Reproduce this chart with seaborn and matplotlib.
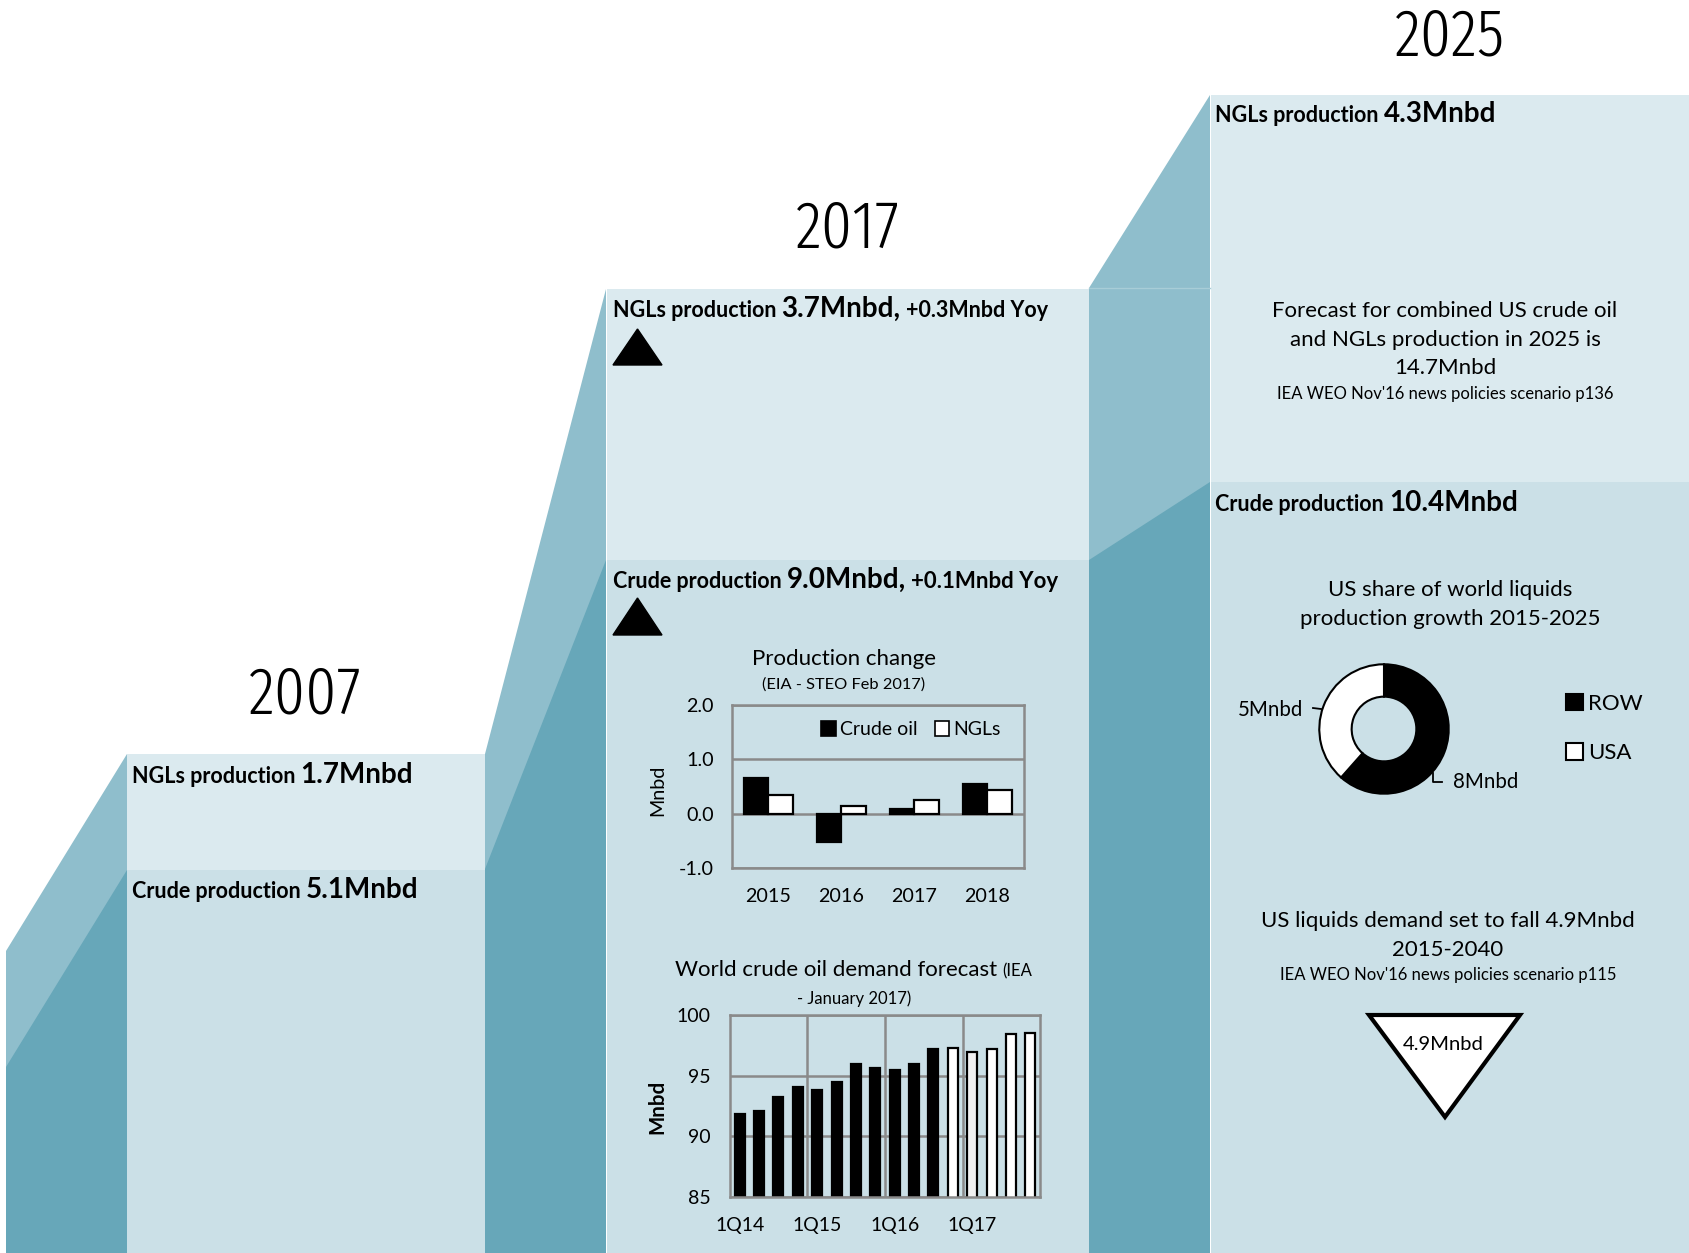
import matplotlib
matplotlib.use("Agg")
import matplotlib.pyplot as plt
from matplotlib.patches import Polygon, Rectangle, Patch
import pandas as pd
import seaborn as sns

# ---------------- data ----------------
snapshot_years = ["2007", "2017", "2025"]
ngl_production = [1.7, 3.7, 4.3]        # Mnbd
crude_production = [5.1, 9.0, 10.4]     # Mnbd
ngl_yoy = 0.3
crude_yoy = 0.1

change_years = ["2015", "2016", "2017", "2018"]
change_crude = [0.65, -0.52, 0.09, 0.54]
change_ngl = [0.34, 0.15, 0.26, 0.43]

demand_quarters = ["1Q14", "2Q14", "3Q14", "4Q14", "1Q15", "2Q15", "3Q15", "4Q15",
                   "1Q16", "2Q16", "3Q16", "4Q16", "1Q17", "2Q17", "3Q17", "4Q17"]
demand_values = [91.85, 92.05, 93.26, 94.06, 93.84, 94.44, 95.93, 95.65,
                 95.43, 95.96, 97.22, 97.30, 96.92, 97.22, 98.46, 98.51]
demand_colors = ["black"] * 11 + ["white", "#f0f0f0", "white", "white", "white"]
demand_tick_labels = ["1Q14", "1Q15", "1Q16", "1Q17"]

share_labels = ["ROW", "USA"]
share_values = [8, 5]

us_demand_fall = 4.9

# ---------------- style ----------------
W, H = 1690, 1253
NGL_BOX = "#dbeaef"
CRUDE_BOX = "#cbe0e7"
SLOPE_LIGHT = "#8fbecc"
SLOPE_DARK = "#67a7b9"
GRID = "#8a8a8a"
LABEL_FONT = ["Lato", "DejaVu Sans"]
YEAR_FONT = ["Fira Sans Extra Condensed", "Roboto Condensed", "DejaVu Sans"]

plt.rcParams["font.family"] = LABEL_FONT

fig = plt.figure(figsize=(W / 100, H / 100), dpi=100)
fig.patch.set_facecolor("white")
renderer = fig.canvas.get_renderer()


def rect(x0, y0, x1, y1):
    """Pixel box (top-left origin) -> figure fraction rectangle."""
    return [x0 / W, 1 - y1 / H, (x1 - x0) / W, (y1 - y0) / H]


bg = fig.add_axes([0, 0, 1, 1])
bg.set_xlim(0, W)
bg.set_ylim(H, 0)
bg.axis("off")

# staircase: ramps between the steps, then the step blocks
ramps = [
    (6, 127, 951, 754, 1067, 870),
    (485, 606, 754, 289, 869, 560),
    (1089, 1210, 288, 95, 560, 482),
]
for x0, x1, yl0, yl1, yd0, yd1 in ramps:
    bg.add_patch(Polygon([(x0, yl0), (x1, yl1), (x1, H), (x0, H)],
                         closed=True, fc=SLOPE_LIGHT, ec="none"))
    bg.add_patch(Polygon([(x0, yd0), (x1, yd1), (x1, H), (x0, H)],
                         closed=True, fc=SLOPE_DARK, ec="none"))
bg.plot([1089, 1210], [288, 288], color="#a8cdd7", lw=1)

blocks = [(127, 485, 754, 870), (607, 1089, 289, 560), (1211, 1690, 95, 482)]
for x0, x1, top_ngl, top_crude in blocks:
    bg.add_patch(Rectangle((x0, top_ngl), x1 - x0, top_crude - top_ngl,
                           fc=NGL_BOX, ec="none"))
    bg.add_patch(Rectangle((x0, top_crude), x1 - x0, H - top_crude,
                           fc=CRUDE_BOX, ec="none"))

# year headings
year_pos = [(305, 714), (848, 248), (1450, 56)]
for yr, (x, y) in zip(snapshot_years, year_pos):
    bg.text(x, y, yr, ha="center", va="baseline", fontsize=48, fontweight=300,
            family=YEAR_FONT, color="black")


def rich(ax, x, y, parts, gap=5):
    """Draw consecutive text runs of different sizes on one baseline."""
    cx = x
    for s, size, weight in parts:
        t = ax.text(cx, y, s, fontsize=size, fontweight=weight,
                    va="baseline", ha="left", color="black")
        bb = t.get_window_extent(renderer=renderer)
        cx = ax.transData.inverted().transform((bb.x1 + gap, bb.y0))[0]


def mn(v):
    return f"{v:.1f}Mnbd"


LBL, VAL, YOY = 15.5, 20, 15.5

# step labels
rich(bg, 132, 783, [("NGLs production", LBL, "bold"), (mn(ngl_production[0]), VAL, "bold")])
rich(bg, 132, 898, [("Crude production", LBL, "bold"), (mn(crude_production[0]), VAL, "bold")])
rich(bg, 613, 317, [("NGLs production", LBL, "bold"), (mn(ngl_production[1]) + ",", VAL, "bold"),
                    (f"+{ngl_yoy:.1f}Mnbd Yoy", YOY, "bold")])
rich(bg, 613, 588, [("Crude production", LBL, "bold"), (mn(crude_production[1]) + ",", VAL, "bold"),
                    (f"+{crude_yoy:.1f}Mnbd Yoy", 16, "bold")])
rich(bg, 1215, 122, [("NGLs production", LBL, "bold"), (mn(ngl_production[2]), VAL, "bold")])
rich(bg, 1215, 511, [("Crude production", LBL, "bold"), (mn(crude_production[2]), VAL, "bold")])

# up arrows for year-on-year growth
for ytop, ybot in [(329, 365), (598, 635)]:
    bg.add_patch(Polygon([(613, ybot), (662, ybot), (637.5, ytop)], closed=True,
                         fc="black", ec="black"))

# 2025 notes
combined = ngl_production[2] + crude_production[2]
bg.text(1445, 317, "Forecast for combined US crude oil", ha="center", va="baseline", fontsize=16)
bg.text(1445, 346, "and NGLs production in 2025 is", ha="center", va="baseline", fontsize=16)
bg.text(1445, 374, f"{combined:.1f}Mnbd", ha="center", va="baseline", fontsize=16)
bg.text(1445, 399, "IEA WEO Nov'16 news policies scenario p136", ha="center", va="baseline", fontsize=12)

bg.text(1450, 596, "US share of world liquids", ha="center", va="baseline", fontsize=16)
bg.text(1450, 625, "production growth 2015-2025", ha="center", va="baseline", fontsize=16)

bg.text(1448, 927, f"US liquids demand set to fall {us_demand_fall:.1f}Mnbd",
        ha="center", va="baseline", fontsize=16)
bg.text(1448, 956, "2015-2040", ha="center", va="baseline", fontsize=16)
bg.text(1448, 980, "IEA WEO Nov'16 news policies scenario p115", ha="center", va="baseline", fontsize=12)

bg.add_patch(Polygon([(1369, 1015), (1520, 1015), (1445, 1117)], closed=True,
                     fc="white", ec="black", lw=3, joinstyle="miter"))
bg.text(1443, 1044, mn(us_demand_fall), ha="center", va="center", fontsize=14.6)

# ---------------- production change chart ----------------
df_change = pd.DataFrame({
    "year": change_years * 2,
    "series": ["Crude oil"] * 4 + ["NGLs"] * 4,
    "value": change_crude + change_ngl,
})
axc = fig.add_axes(rect(732, 705, 1024, 868))
axc.set_facecolor("none")
sns.barplot(data=df_change, x="year", y="value", hue="series",
            hue_order=["Crude oil", "NGLs"],
            palette={"Crude oil": "black", "NGLs": "white"},
            edgecolor="black", linewidth=1.6, width=0.66, saturation=1,
            legend=False, ax=axc)
axc.set_ylim(-1, 2)
axc.set_yticks([-1, 0, 1, 2])
axc.set_yticklabels(["-1.0", "0.0", "1.0", "2.0"])
axc.set_xlim(-0.5, 3.5)
axc.set_xlabel("")
axc.set_ylabel("")
axc.grid(axis="y", color=GRID, lw=1.8)
axc.set_axisbelow(True)
for sp in axc.spines.values():
    sp.set_visible(True)
    sp.set_color(GRID)
    sp.set_linewidth(1.8)
axc.tick_params(length=0, labelsize=14.2, pad=13)
axc.tick_params(axis="x", pad=14.5)
axc.legend(handles=[Patch(fc="black", ec="black", lw=1.2, label="Crude oil"),
                    Patch(fc="white", ec="black", lw=1.2, label="NGLs")],
           loc="upper left", bbox_to_anchor=(0.305, 0.90), ncol=2, frameon=False,
           fontsize=14, handlelength=0.75, handleheight=0.75, handletextpad=0.2,
           columnspacing=0.9, borderpad=0, borderaxespad=0)
bg.text(844, 665, "Production change", ha="center", va="baseline", fontsize=16)
bg.text(844, 689, "(EIA - STEO Feb 2017)", ha="center", va="baseline", fontsize=11.8)
bg.text(658, 790, "Mnbd", rotation=90, ha="center", va="center", fontsize=14.2)

# ---------------- world demand chart ----------------
df_demand = pd.DataFrame({"quarter": demand_quarters, "value": demand_values})
axd = fig.add_axes(rect(730, 1015, 1040, 1197))
axd.set_facecolor("none")
sns.barplot(data=df_demand, x="quarter", y="value", hue="quarter",
            palette=demand_colors, edgecolor="black", linewidth=1.6,
            width=0.52, saturation=1, legend=False, ax=axd)
axd.set_ylim(85, 100)
axd.set_xlim(-0.5, 15.5)
axd.set_yticks([85, 90, 95, 100])
axd.set_xticks([0, 4, 8, 12])
axd.set_xticklabels(demand_tick_labels)
axd.set_xticks([3.5, 7.5, 11.5], minor=True)
axd.set_xlabel("")
axd.set_ylabel("")
axd.grid(axis="y", which="major", color=GRID, lw=1.8)
axd.grid(axis="x", which="minor", color=GRID, lw=1.8)
axd.set_axisbelow(True)
for sp in axd.spines.values():
    sp.set_visible(True)
    sp.set_color(GRID)
    sp.set_linewidth(1.8)
axd.tick_params(which="both", length=0, labelsize=14, pad=14)
axd.tick_params(axis="x", pad=14.5)
rich(bg, 675, 976, [("World crude oil demand forecast", 16, "normal"), ("(IEA", 12, "normal")])
bg.text(854, 1004, "- January 2017)", ha="center", va="baseline", fontsize=12)
bg.text(657, 1107, "Mnbd", rotation=90, ha="center", va="center", fontsize=14.8,
        fontweight="bold")

# ---------------- share of growth donut ----------------
axp = fig.add_axes(rect(1318, 663, 1450, 795))
wedges, _ = axp.pie(share_values, colors=["black", "white"], startangle=90,
                    counterclock=False, radius=1,
                    wedgeprops=dict(width=0.5, edgecolor="black", linewidth=1.5))
axp.set_xlim(-1.02, 1.02)
axp.set_ylim(-1.02, 1.02)
axp.legend(wedges, share_labels, loc="upper left",
           bbox_to_anchor=(1566 / W, 1 - 694 / H), bbox_transform=fig.transFigure,
           frameon=False, fontsize=16, handlelength=0.75, handleheight=0.75,
           handletextpad=0.25, labelspacing=1.32, borderpad=0, borderaxespad=0)

bg.text(1303, 710, f"{share_values[1]}Mnbd", ha="right", va="center", fontsize=14.8)
bg.plot([1313, 1337], [708, 711], color="black", lw=1.3)
bg.text(1453, 782, f"{share_values[0]}Mnbd", ha="left", va="center", fontsize=14.8)
bg.plot([1433, 1433, 1442], [773, 782, 782], color="black", lw=1.3)

fig.savefig("out.png", dpi=100, facecolor="white")
